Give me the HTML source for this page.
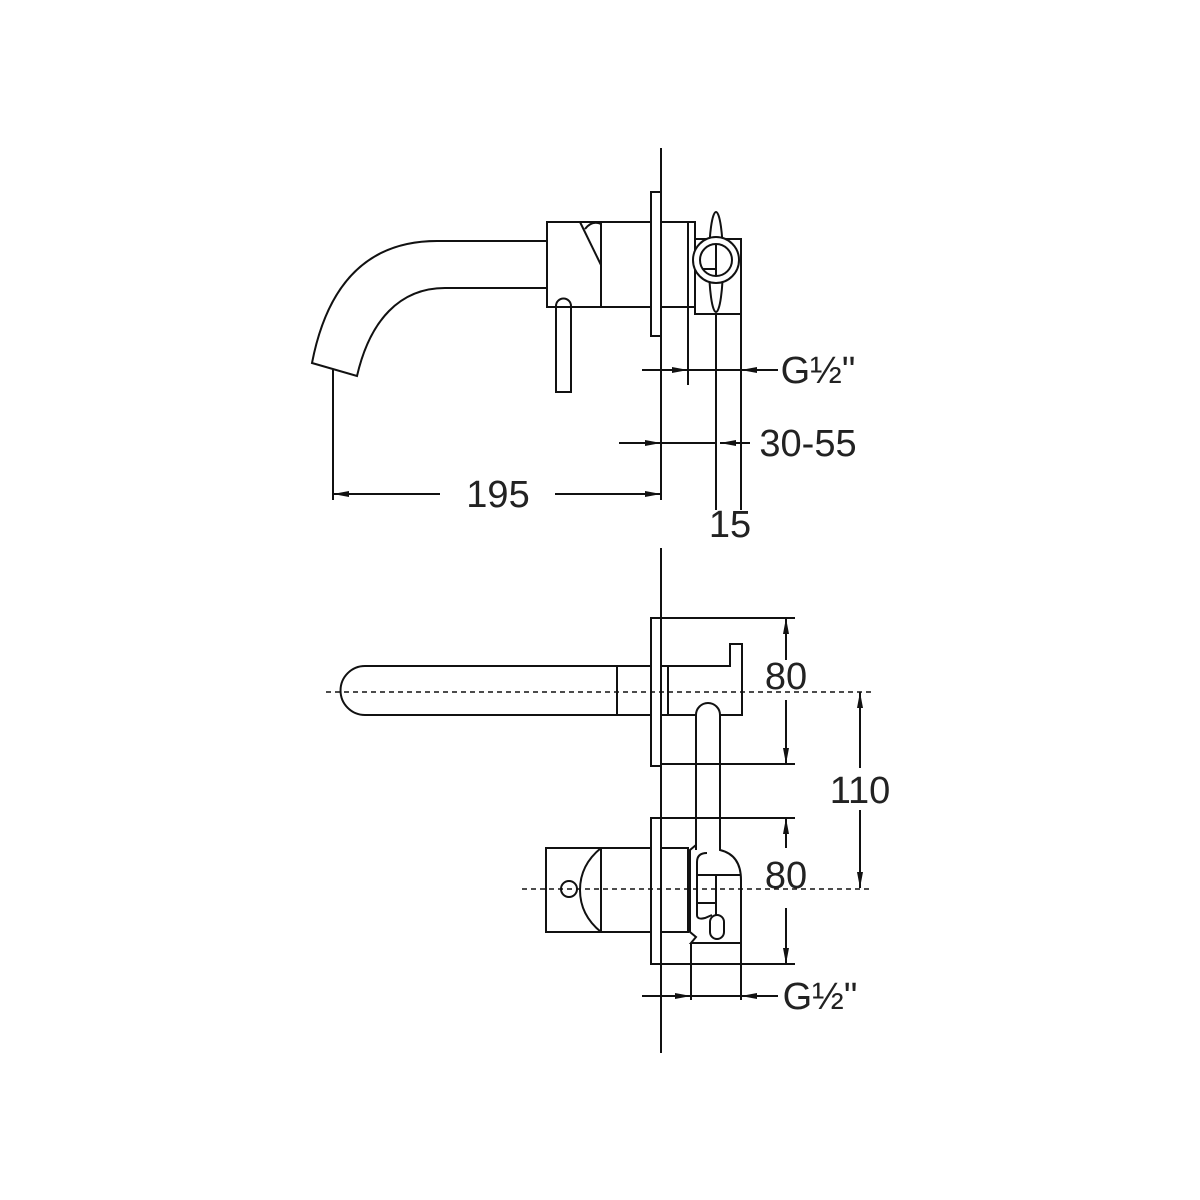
<!DOCTYPE html>
<html><head><style>html,body{margin:0;padding:0;background:#fff}svg{display:block}</style></head>
<body>
<svg width="1200" height="1200" viewBox="0 0 1200 1200" xmlns="http://www.w3.org/2000/svg">
<defs>
<marker id="a" viewBox="0 0 16 6" refX="16" refY="3" markerWidth="16" markerHeight="6" markerUnits="userSpaceOnUse" orient="auto"><path d="M0,0L16,3L0,6z" fill="#111"/></marker>
</defs>
<g fill="none" stroke="#111" stroke-width="2">
<line x1="661" y1="148" x2="661" y2="500"/>
<line x1="661" y1="548" x2="661" y2="1053"/>
<!-- TOP VIEW -->
<path d="M547,241 L437,241 C380,241 330,270 312,363 L357,376 C370,320 400,288 445,288 L547,288"/>
<rect x="547" y="222" width="54" height="85"/>
<path d="M580,222 L601,265"/>
<path d="M585,229 Q592,220 601,224"/>
<rect x="601" y="222" width="50" height="85"/>
<rect x="651" y="192" width="10" height="144"/>
<rect x="661" y="222" width="27" height="85"/>
<rect x="688" y="222" width="7" height="85"/>
<rect x="695" y="239" width="46" height="75"/>
<ellipse cx="716" cy="262" rx="7" ry="50" fill="#fff"/>
<circle cx="716" cy="260" r="23" fill="#fff"/>
<circle cx="716" cy="260" r="16"/>
<line x1="716" y1="244" x2="716" y2="276"/>
<line x1="703" y1="269" x2="716" y2="269"/>
<path d="M556,392 L556,306 A7.5,7.5 0 0 1 571,306 L571,392 Z"/>
<line x1="333" y1="370" x2="333" y2="500"/>
<line x1="688" y1="307" x2="688" y2="385"/>
<line x1="716" y1="314" x2="716" y2="510"/>
<line x1="741" y1="314" x2="741" y2="510"/>
<line x1="642" y1="370" x2="688" y2="370" marker-end="url(#a)"/>
<line x1="688" y1="370" x2="741" y2="370"/>
<line x1="778" y1="370" x2="741" y2="370" marker-end="url(#a)"/>
<line x1="619" y1="443" x2="661" y2="443" marker-end="url(#a)"/>
<line x1="661" y1="443" x2="716" y2="443"/>
<line x1="750" y1="443" x2="720" y2="443" marker-end="url(#a)"/>
<line x1="440" y1="494" x2="333" y2="494" marker-end="url(#a)"/>
<line x1="555" y1="494" x2="661" y2="494" marker-end="url(#a)"/>
<!-- BOTTOM VIEW upper -->
<path d="M617,666 L365,666 A24.5,24.5 0 0 0 365,715 L617,715"/>
<rect x="617" y="666" width="34" height="49"/>
<rect x="651" y="618" width="10" height="148"/>
<line x1="661" y1="618" x2="795" y2="618"/>
<line x1="661" y1="764" x2="795" y2="764"/>
<rect x="661" y="666" width="7" height="49"/>
<path d="M668,666 L730,666 L730,644 L742,644 L742,666 L742,715 L720,715"/>
<path d="M696,715 L668,715"/>
<path d="M696,850 L696,715 A12,12 0 0 1 720,715 L720,850"/>
<!-- BOTTOM VIEW lower -->
<rect x="651" y="818" width="10" height="146"/>
<line x1="661" y1="818" x2="795" y2="818"/>
<line x1="661" y1="964" x2="795" y2="964"/>
<rect x="546" y="848" width="55" height="84"/>
<path d="M601,848 Q580,865 580,890 Q580,915 601,932"/>
<circle cx="569" cy="889" r="8"/>
<rect x="601" y="848" width="50" height="84"/>
<rect x="661" y="848" width="27" height="84"/>
<path d="M696,800 L696,845 L690,850 L690,932 L696,937 L691,943 L741,943 L741,880 Q741,855 720,850 L720,800"/>
<path d="M707,853 Q697,853 697,862 L697,915 Q697,920 705,918 L712,915"/>
<line x1="697" y1="875" x2="741" y2="875"/>
<line x1="697" y1="903" x2="716" y2="903"/>
<line x1="716" y1="876" x2="716" y2="915"/>
<rect x="710" y="915" width="14" height="24" rx="7"/>
<line x1="691" y1="943" x2="691" y2="1000"/>
<line x1="741" y1="943" x2="741" y2="1000"/>
<line x1="786" y1="660" x2="786" y2="618" marker-end="url(#a)"/>
<line x1="786" y1="700" x2="786" y2="764" marker-end="url(#a)"/>
<line x1="860" y1="768" x2="860" y2="692" marker-end="url(#a)"/>
<line x1="860" y1="810" x2="860" y2="888" marker-end="url(#a)"/>
<line x1="786" y1="848" x2="786" y2="818" marker-end="url(#a)"/>
<line x1="786" y1="908" x2="786" y2="964" marker-end="url(#a)"/>
<line x1="642" y1="996" x2="691" y2="996" marker-end="url(#a)"/>
<line x1="691" y1="996" x2="741" y2="996"/>
<line x1="778" y1="996" x2="741" y2="996" marker-end="url(#a)"/>
</g>
<g stroke="#111" stroke-width="1.6" stroke-dasharray="5,4">
<line x1="326" y1="692" x2="873" y2="692"/>
<line x1="522" y1="889" x2="873" y2="889"/>
</g>
<g font-family="Liberation Sans, sans-serif" font-size="38" fill="#222" text-anchor="middle">
<text x="498" y="507">195</text>
<text x="818" y="383">G½"</text>
<text x="808" y="456">30-55</text>
<text x="730" y="537">15</text>
<text x="786" y="689">80</text>
<text x="860" y="803">110</text>
<text x="786" y="888">80</text>
<text x="820" y="1009">G½"</text>
</g>
</svg>
</body></html>
